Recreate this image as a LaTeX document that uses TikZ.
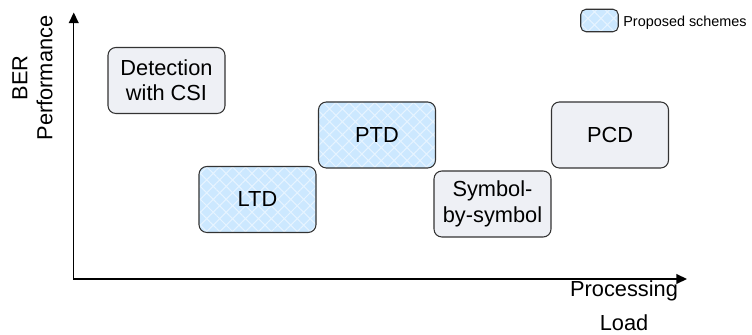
\documentclass[tikz,border=0pt]{standalone}
\usepackage{fontspec}
\setmainfont{Liberation Sans}
\usetikzlibrary{arrows.meta,patterns.meta}

\definecolor{boxgray}{HTML}{EEF0F5}
\definecolor{schemeblue}{HTML}{CCE8FF}
\definecolor{hatchblue}{HTML}{E6F4FF}

\tikzset{
  axis/.style={line width=0.8pt, {Triangle[length=6pt,width=5.5pt]}-{Triangle[length=6pt,width=5.5pt]}},
  boxbase/.style={draw=black!80, line width=0.6pt, rounded corners=4.5pt,
    minimum width=2.34cm, minimum height=1.32cm, align=center, inner sep=0pt,
    font=\fontsize{12.4}{14.4}\selectfont},
  method/.style={boxbase, fill=boxgray},
  scheme/.style={boxbase, preaction={fill=schemeblue},
    pattern={Hatch[angle=45,distance=5.2pt,line width=0.6pt]}, pattern color=hatchblue},
}

\begin{document}
\begin{tikzpicture}
			%%%%% START %%%%%
			\useasboundingbox (0, 0) rectangle (15.04, 6.7);
			
			% axes
			\coordinate (origin) at (1.475, 1.12);
			\coordinate (ytip) at (1.475, 6.45);
			\coordinate (xtip) at (13.74, 1.12);
			\draw[axis] (ytip) -- (origin) -- (xtip);
			
			\node[rotate=90, align=center, font=\fontsize{12.4}{14.2}\selectfont] (ber) at (0.65, 5.14) {BER\\Performance};
			\node[align=center, font=\fontsize{12.4}{19.3}\selectfont] (load) at (12.48, 0.58) {Processing\\Load};
			
			% detectors
			\node[method] (csi) at (3.33, 5.09) {Detection\\with CSI};
			\node[scheme] (ltd) at (5.15, 2.71) {LTD};
			\node[scheme] (ptd) at (7.54, 4.0) {PTD};
			\node[method] (sbs) at (9.85, 2.62) {Symbol-\\by-symbol};
			\node[method] (pcd) at (12.2, 4.0) {PCD};
			
			% legend
			\node[scheme, minimum width=0.75cm, minimum height=0.45cm, rounded corners=3pt] (key) at (11.99, 6.29) {};
			\node[anchor=base west, inner sep=0pt, font=\fontsize{8.2}{9}\selectfont] (keytext) at (12.46, 6.17) {Proposed schemes};
			%%%%% END %%%%%
\end{tikzpicture}
\end{document}
